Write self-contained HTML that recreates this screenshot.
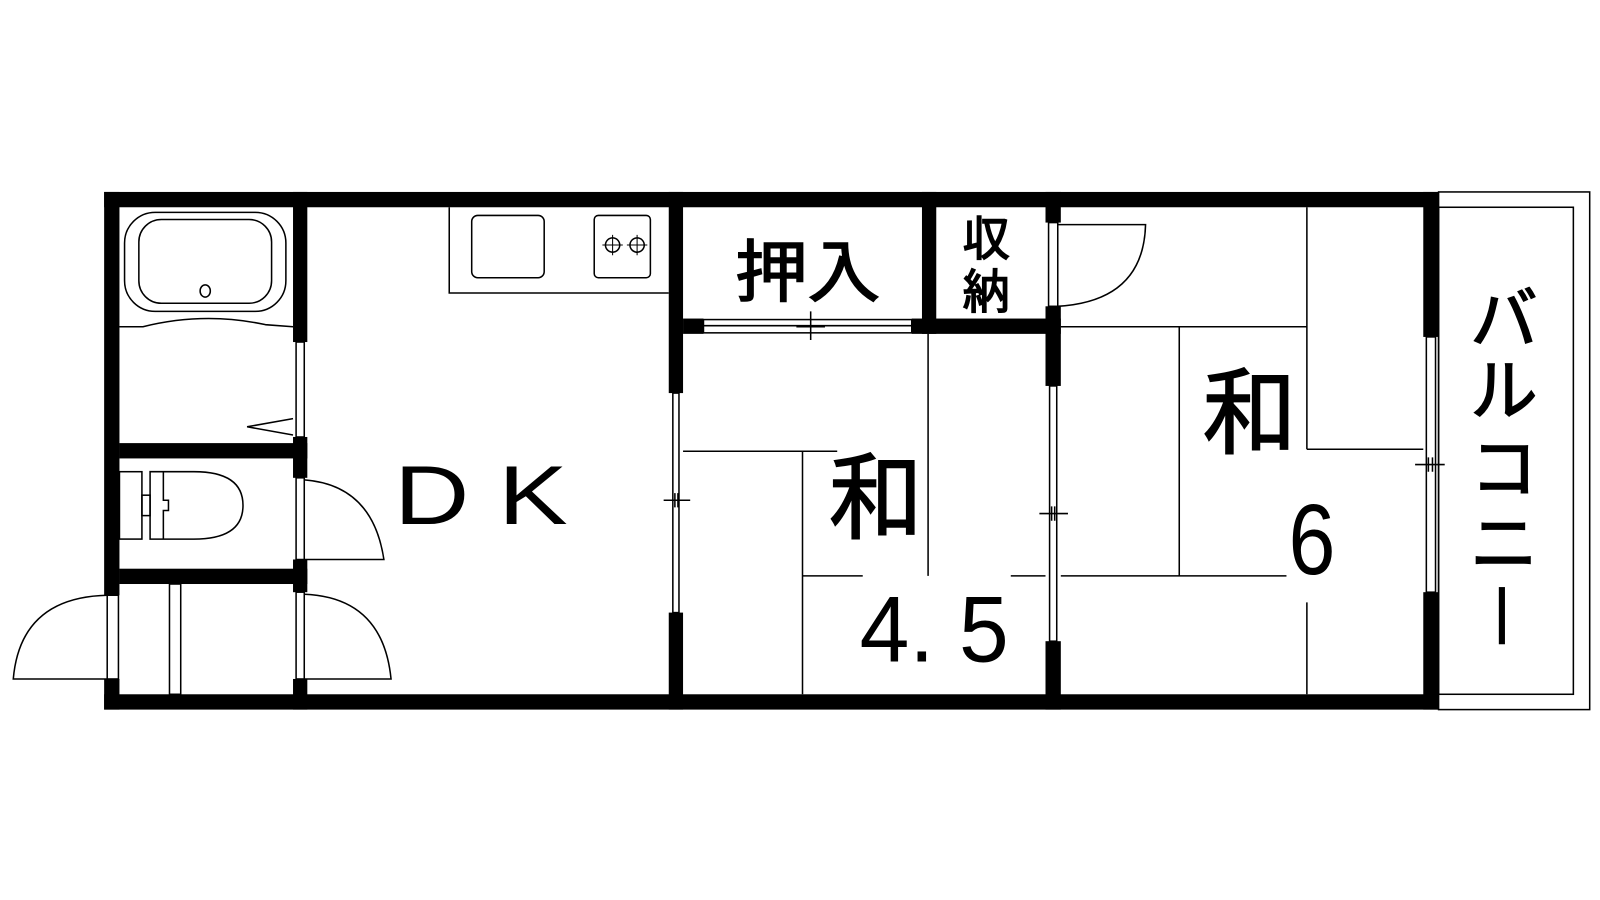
<!DOCTYPE html>
<html><head><meta charset="utf-8"><style>
html,body{margin:0;padding:0;background:#fff;}
svg{display:block;}
text{font-family:"Liberation Sans","Noto Sans CJK JP",sans-serif;fill:#000;}
.b{stroke:#000;stroke-width:1.5;}
</style></head><body>
<svg width="1600" height="900" viewBox="0 0 1600 900" xmlns="http://www.w3.org/2000/svg">
<g transform="scale(1.021)">
<g fill="#000">
<rect x="102" y="188" width="1307" height="15"/>
<rect x="102" y="680" width="1307" height="15"/>
<rect x="102" y="188" width="15" height="395"/>
<rect x="102" y="665" width="15" height="30"/>
<rect x="1394" y="188" width="15" height="142"/>
<rect x="1394" y="580" width="15" height="115"/>
<rect x="287" y="188" width="14" height="147"/>
<rect x="287" y="428" width="14" height="40"/>
<rect x="287" y="548" width="14" height="32"/>
<rect x="287" y="665" width="14" height="30"/>
<rect x="117" y="434" width="184" height="15"/>
<rect x="117" y="557" width="184" height="15"/>
<rect x="655" y="188" width="14" height="197"/>
<rect x="655" y="600" width="14" height="95"/>
<rect x="669" y="312" width="20" height="15"/>
<rect x="893" y="312" width="146" height="15"/>
<rect x="903" y="188" width="14" height="139"/>
<rect x="1024" y="188" width="15" height="30"/>
<rect x="1024" y="300" width="15" height="78"/>
<rect x="1024" y="628" width="15" height="67"/>
</g>
<g fill="none" stroke="#000" stroke-width="1.5">
<rect x="1409" y="188" width="148" height="507"/>
<rect x="1409" y="203" width="132" height="477"/>
<rect x="122" y="208" width="158" height="97" rx="30"/>
<rect x="136" y="215" width="130" height="82" rx="22"/>
<ellipse cx="201" cy="285" rx="5" ry="6"/>
<path d="M117 320 H140 Q200 305 260 318 L287 320"/>
<rect x="290" y="335" width="8" height="93"/>
<path d="M287 426 L242 418 L287 410"/>
<rect x="117" y="462" width="22" height="66"/>
<path d="M147 462 H190 Q238 462 238 495 Q238 528 190 528 H147 Z"/>
<path d="M160 462 V490 H165 V500 H160 V528"/>
<rect x="139" y="485" width="8" height="20"/>
<rect x="290" y="468" width="8" height="80"/>
<path d="M298 470 Q365 475 376 548 H298"/>
<rect x="290" y="580" width="8" height="85"/>
<path d="M298 582 Q375 585 383 665 H298"/>
<rect x="105" y="583" width="11" height="82"/>
<path d="M105 583 Q20 585 13 665 H105"/>
<rect x="166" y="572" width="11" height="108"/>
<path d="M440 203 V287 H655"/>
<rect x="462" y="211" width="71" height="61" rx="6"/>
<rect x="582" y="211" width="55" height="61" rx="4"/>
<circle cx="600" cy="240" r="7"/><circle cx="624" cy="240" r="7"/>
<path d="M600 230v20M590 240h20M624 230v20M614 240h20" stroke-width="1"/>
<rect x="659" y="385" width="6" height="215"/>
<path d="M650 490 H676 M661 483 V497 M664 483 V497"/>
<rect x="689" y="313" width="204" height="13"/>
<path d="M689 319 H893 M794 305 V333 M780 320 H808"/>
<rect x="1027" y="218" width="9" height="82"/>
<path d="M1036 220 H1122 Q1120 295 1036 300"/>
<rect x="1028" y="378" width="7" height="250"/>
<path d="M1018 503 H1046 M1030 496 V510 M1033 496 V510"/>
<rect x="1397" y="330" width="9" height="250"/>
<path d="M1386 455 H1415 M1399 448 V462 M1403 448 V462"/>
<path d="M909 327 V564 M669 442 H820 M786 442 V680 M786 564 H845 M990 564 H1024"/>
<path d="M1280 203 V440 M1280 590 V680 M1039 320 H1280 M1155 320 V564 M1280 440 H1394 M1039 564 H1260"/>
</g>
<text x="386" y="513" font-size="82" textLength="170" lengthAdjust="spacingAndGlyphs">D K</text>
<text class="b" x="720" y="290" font-size="66" textLength="142" lengthAdjust="spacingAndGlyphs">押入</text>
<text class="b" x="943" y="250" font-size="46">収</text>
<text class="b" x="943" y="302" font-size="46">納</text>
<text class="b" x="812" y="520" font-size="92">和</text>
<text x="842" y="648" font-size="92" textLength="146" lengthAdjust="spacingAndGlyphs">4. 5</text>
<text class="b" x="1178" y="437" font-size="92">和</text>
<text x="1262" y="562" font-size="98" textLength="46" lengthAdjust="spacingAndGlyphs">6</text>
<text class="b" x="1440" y="336" font-size="66">バ</text>
<text class="b" x="1440" y="406" font-size="66">ル</text>
<text class="b" x="1440" y="482" font-size="66">コ</text>
<text class="b" x="1440" y="556" font-size="66">ニ</text>
<rect x="1468" y="575" width="6" height="56" fill="#000"/>
</g>
</svg>
</body></html>
